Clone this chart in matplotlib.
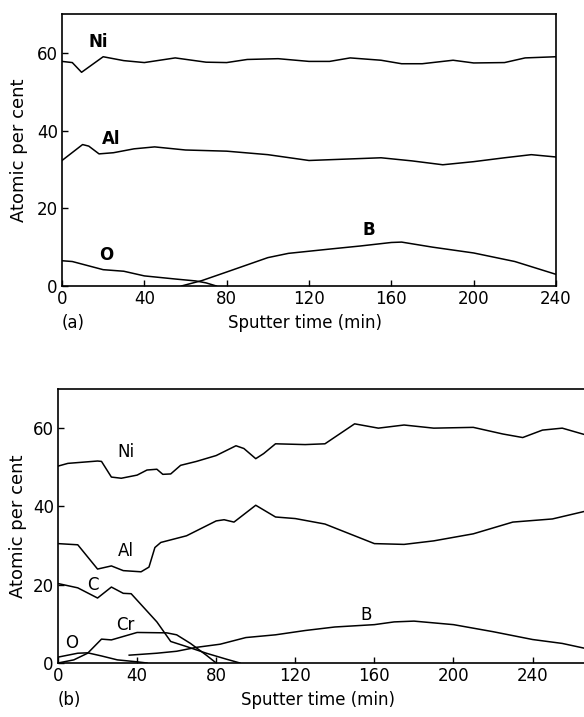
import matplotlib
matplotlib.use("Agg")
import matplotlib.pyplot as plt

# ---- panel (a) ----
ni_a_t = [0, 5, 9.5, 20, 30, 40, 55, 70, 80, 90, 105, 120, 130, 140, 155, 165, 175, 190, 200, 215, 225, 240]
ni_a = [57.8, 57.5, 55.0, 59.0, 58.0, 57.5, 58.7, 57.6, 57.5, 58.3, 58.5, 57.8, 57.8, 58.7, 58.1, 57.2, 57.2, 58.1, 57.4, 57.5, 58.7, 59.0]

al_a_t = [0, 10, 13, 18, 25, 35, 45, 60, 80, 100, 120, 140, 155, 170, 185, 200, 215, 228, 240]
al_a = [32.3, 36.4, 36.0, 34.0, 34.3, 35.3, 35.8, 35.0, 34.7, 33.8, 32.3, 32.7, 33.0, 32.2, 31.2, 32.0, 33.0, 33.8, 33.2]

o_a_t = [0, 5, 20, 30, 40, 55, 65, 70, 75]
o_a = [6.5, 6.3, 4.2, 3.8, 2.6, 1.8, 1.3, 0.8, 0]

b_a_t = [58, 68, 80, 100, 110, 130, 145, 160, 165, 180, 200, 220, 240]
b_a = [0, 1.4, 3.6, 7.3, 8.4, 9.5, 10.3, 11.2, 11.3, 10.0, 8.5, 6.3, 3.0]

# ---- panel (b) ----
ni_b_t = [0, 5, 20, 22, 27, 32, 40, 45, 50, 53, 57, 62, 70, 80, 90, 94, 100, 104, 110, 125, 135, 150, 162, 175, 190, 210, 225, 235, 245, 255, 266]
ni_b = [50.3, 51.0, 51.6, 51.5, 47.5, 47.2, 48.0, 49.3, 49.5, 48.2, 48.3, 50.5, 51.5, 53.0, 55.5, 54.8, 52.2, 53.5, 56.0, 55.8, 56.0, 61.1, 60.0, 60.8, 60.0, 60.2, 58.5, 57.6, 59.5, 60.0, 58.4]

al_b_t = [0, 10, 20, 27, 33, 42, 46, 49, 52, 65, 80, 84, 89, 100, 110, 120, 135, 150, 160, 175, 190, 210, 230, 250, 266]
al_b = [30.5, 30.2, 24.0, 24.8, 23.6, 23.3, 24.5, 29.5, 30.8, 32.5, 36.3, 36.6, 36.0, 40.3, 37.3, 36.9, 35.5, 32.5, 30.5, 30.3, 31.2, 33.0, 36.0, 36.8, 38.7]

c_b_t = [0, 10, 20, 27, 33, 37, 50, 57, 65, 75, 85, 92]
c_b = [20.3, 19.2, 16.6, 19.4, 17.8, 17.7, 10.5, 5.5, 4.2, 2.5, 1.0, 0]

cr_b_t = [0, 8, 15, 22, 27, 40, 55, 60, 67, 75, 80]
cr_b = [0, 0.8, 2.5, 6.1, 5.9, 7.8, 7.7, 7.2, 5.0, 2.0, 0]

o_b_t = [0, 10, 15, 22, 30, 40, 45]
o_b = [1.5, 2.5, 2.6, 1.8, 0.8, 0.3, 0]

b_b_t = [36, 50, 60, 70, 82, 95, 110, 125, 140, 160, 170, 180, 200, 220, 240, 255, 266]
b_b = [2.0, 2.5, 3.0, 4.0, 4.8, 6.5, 7.2, 8.3, 9.2, 9.8, 10.5, 10.7, 9.8, 8.0, 6.0, 5.0, 3.8]

xticks = [0, 40, 80, 120, 160, 200, 240]
yticks = [0, 20, 40, 60]

W, H = 584, 717
fig = plt.figure(figsize=(W / 100, H / 100), dpi=100)

def px_axes(left, right, top, bottom):
    return fig.add_axes([left / W, 1 - bottom / H, (right - left) / W, (bottom - top) / H])

lw = 1.1
fs = 12

# (a)
ax1 = px_axes(62, 556, 14, 286)
for t, v in [(ni_a_t, ni_a), (al_a_t, al_a), (o_a_t, o_a), (b_a_t, b_a)]:
    ax1.plot(t, v, color="black", lw=lw)
ax1.set_xlim(0, 240)
ax1.set_ylim(0, 70)
ax1.text(17.4, 62.8, "Ni", fontsize=fs, fontweight="bold", ha="center", va="center")
ax1.text(23.8, 37.8, "Al", fontsize=fs, fontweight="bold", ha="center", va="center")
ax1.text(21.4, 8.0, "O", fontsize=fs, fontweight="bold", ha="center", va="center")
ax1.text(149, 14.4, "B", fontsize=fs, fontweight="bold", ha="center", va="center")
ax1.set_ylabel("Atomic per cent", fontsize=13, labelpad=6)
fig.text(305 / W, 1 - 323 / H, "Sputter time (min)", fontsize=fs, ha="center", va="center")
fig.text(62 / W, 1 - 323 / H, "(a)", fontsize=fs, ha="left", va="center")

# (b)
ax2 = px_axes(58, 584, 389, 663)
for t, v in [(ni_b_t, ni_b), (al_b_t, al_b), (c_b_t, c_b), (cr_b_t, cr_b), (o_b_t, o_b), (b_b_t, b_b)]:
    ax2.plot(t, v, color="black", lw=lw)
ax2.set_xlim(0, 266)
ax2.set_ylim(0, 70)
ax2.spines["right"].set_visible(False)
ax2.text(34.6, 54.0, "Ni", fontsize=fs, ha="center", va="center")
ax2.text(34.2, 28.5, "Al", fontsize=fs, ha="center", va="center")
ax2.text(17.5, 20.0, "C", fontsize=fs, ha="center", va="center")
ax2.text(34.2, 9.8, "Cr", fontsize=fs, ha="center", va="center")
ax2.text(7.0, 5.1, "O", fontsize=fs, ha="center", va="center")
ax2.text(156, 12.3, "B", fontsize=fs, ha="center", va="center")
ax2.set_ylabel("Atomic per cent", fontsize=13, labelpad=4)
fig.text(318 / W, 1 - 700 / H, "Sputter time (min)", fontsize=fs, ha="center", va="center")
fig.text(58 / W, 1 - 700 / H, "(b)", fontsize=fs, ha="left", va="center")

for ax in (ax1, ax2):
    ax.set_xticks(xticks)
    ax.set_yticks(yticks)
    ax.tick_params(direction="in", length=4, labelsize=fs, width=1, pad=3)
    for s in ax.spines.values():
        s.set_linewidth(1.2)

fig.savefig("out.png", dpi=100)
